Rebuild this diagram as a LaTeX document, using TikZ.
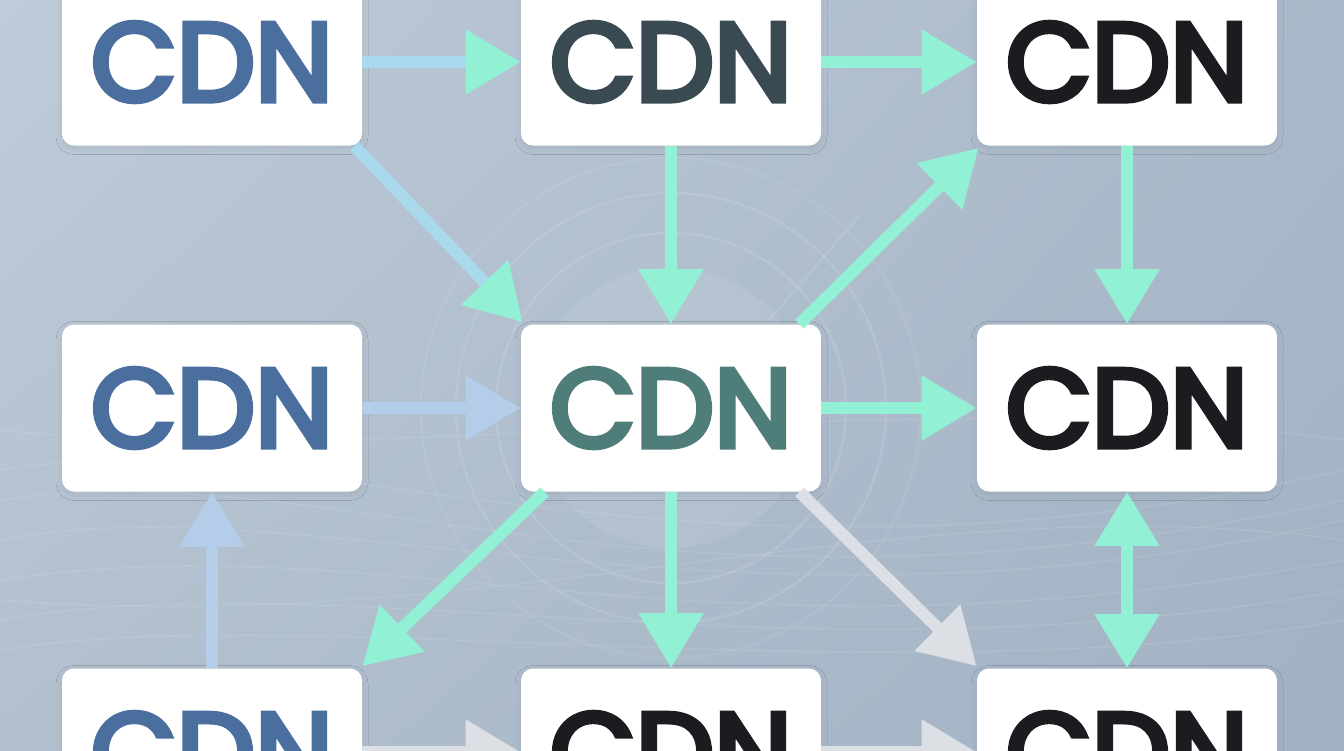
\documentclass[tikz,border=0pt]{standalone}
\usepackage{fontspec}
\setmainfont{Poppins}
\newfontfamily\cdnfont{Poppins}[FakeBold=5]
\usetikzlibrary{arrows.meta,shadows.blur,shadings}
\definecolor{bgUL}{RGB}{190,203,216}
\definecolor{bgUR}{RGB}{170,185,201}
\definecolor{bgLL}{RGB}{178,192,206}
\definecolor{bgLR}{RGB}{162,178,195}
\definecolor{mint}{RGB}{146,240,212}
\definecolor{skyb}{RGB}{170,216,236}
\definecolor{paleb}{RGB}{180,206,234}
\definecolor{paleg}{RGB}{220,223,227}
\definecolor{txblue}{RGB}{74,111,158}
\definecolor{txslate}{RGB}{58,74,82}
\definecolor{txteal}{RGB}{78,125,122}
\definecolor{txblack}{RGB}{26,28,32}
\begin{document}
\begin{tikzpicture}[x=0.5pt,y=-0.5pt,
  cdnbox/.style={fill=white, rounded corners=6pt, minimum width=150pt,
    minimum height=83.5pt, inner sep=0pt,
    font=\cdnfont\fontsize{55.5}{60}\selectfont,
    blur shadow={shadow xshift=0pt, shadow yshift=-1.5pt, shadow blur radius=3pt, shadow blur steps=8, shadow opacity=7}},
  headtip/.style={-{Triangle[length=27.5pt,width=31pt,color=#1]}},
  flow/.style={line width=6pt, draw=#1, headtip=#1},
  flowmix/.style={line width=6pt, draw=skyb, headtip=mint},
  both/.style={line width=6pt, draw=mint,
    {Triangle[length=27pt,width=31pt]}-{Triangle[length=27pt,width=31pt]}},
  ring/.style={draw=white, draw opacity=0.11, line width=1.2pt},
  wave/.style={draw=white, draw opacity=0.10, line width=0.6pt}]
\useasboundingbox (0,0) rectangle (1344,750);
\clip (0,0) rectangle (1344,750);
% background
\shade[upper left=bgUL, upper right=bgUR, lower left=bgLL, lower right=bgLR] (0,0) rectangle (1344,750);
\fill[white, opacity=0.08] (671,408) circle (140);
\draw[ring] (671,408) circle (175);
\draw[ring] (671,408) circle (215);
\draw[ring, draw opacity=0.07] (671,408) circle (250);
\draw[ring] (860,215) -- (769,320);
% waves
\draw[wave] (0,470) .. controls (300,420) and (700,620) .. (1344,470);
\draw[wave] (0,500) .. controls (350,450) and (650,650) .. (1344,500);
\draw[wave] (0,540) .. controls (300,480) and (750,660) .. (1344,520);
\draw[wave] (0,580) .. controls (400,520) and (700,680) .. (1344,560);
\draw[wave] (0,620) .. controls (350,560) and (800,690) .. (1344,590);
\draw[wave] (0,650) .. controls (300,600) and (900,700) .. (1344,620);
\draw[wave] (0,430) .. controls (400,470) and (900,380) .. (1344,440);
\draw[wave] (0,600) .. controls (500,640) and (900,480) .. (1344,540);
% nodes
\node[cdnbox, text=txblue]  (tl) at (212,62)   {CDN};
\node[cdnbox, text=txslate] (tm) at (671,62)   {CDN};
\node[cdnbox, text=txblack] (tr) at (1127,62)  {CDN};
\node[cdnbox, text=txblue]  (ml) at (212,408)  {CDN};
\node[cdnbox, text=txteal]  (mm) at (671,408)  {CDN};
\node[cdnbox, text=txblack] (mr) at (1127,408) {CDN};
\node[cdnbox, text=txblue]  (bl) at (212,752)  {CDN};
\node[cdnbox, text=txblack] (bm) at (671,752)  {CDN};
\node[cdnbox, text=txblack] (br) at (1127,752) {CDN};
% connectors
\draw[flowmix] (tl) -- (tm);
\draw[flow=mint] (tm) -- (tr);
\draw[flowmix] ([xshift=-4pt]tl.south east) -- ([xshift=1pt,yshift=1pt]mm.north west);
\draw[flow=mint] (tm) -- (mm);
\draw[flow=mint] ([xshift=-11pt]mm.north east) -- ([xshift=1pt,yshift=-1pt]tr.south west);
\draw[flow=mint] (tr) -- (mr);
\draw[flow=paleb] (ml) -- (mm);
\draw[flow=mint] (mm) -- (mr);
\draw[flow=paleb] (bl) -- (ml);
\draw[flow=mint] ([xshift=12pt]mm.south west) -- ([yshift=1pt]bl.north east);
\draw[flow=mint] (mm) -- (bm);
\draw[flow=paleg] ([xshift=-11pt]mm.south east) -- ([yshift=1pt]br.north west);
\draw[both] (mr) -- (br);
\draw[flow=paleg] (bl) -- (bm);
\draw[flow=paleg] (bm) -- (br);
\end{tikzpicture}
\end{document}
